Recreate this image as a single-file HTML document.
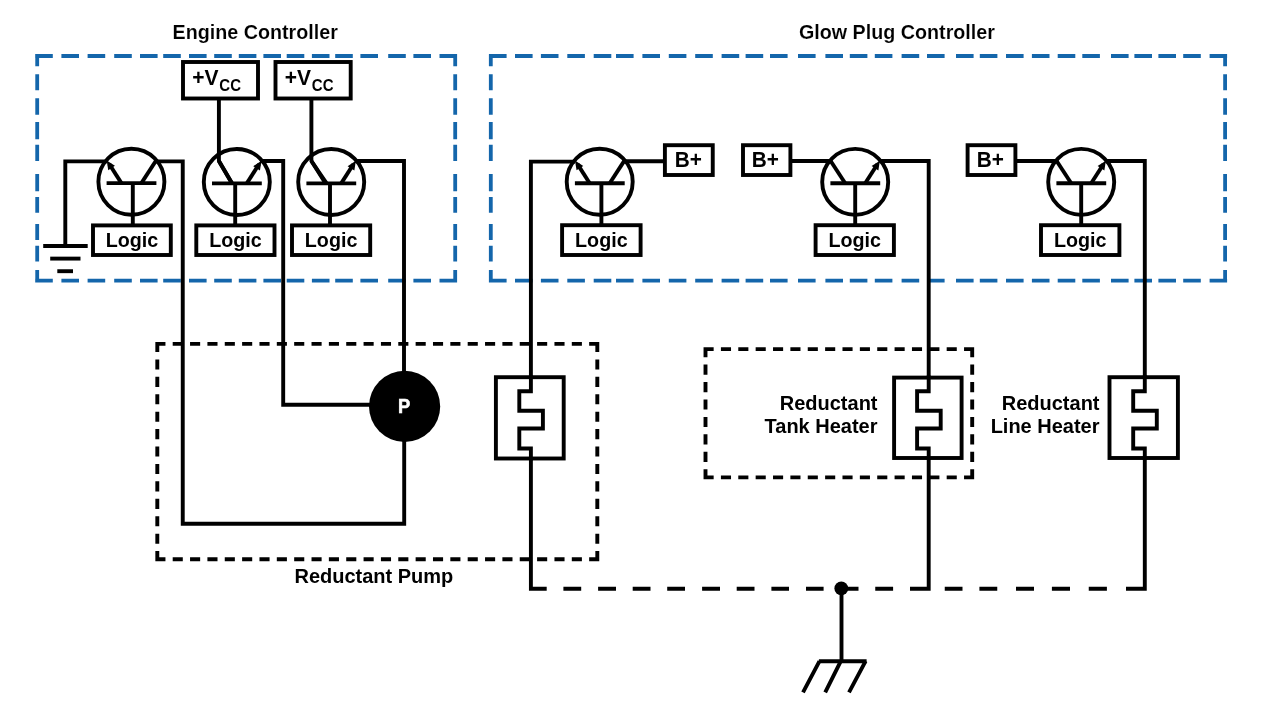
<!DOCTYPE html><html><head><meta charset="utf-8"><style>html,body{margin:0;padding:0;background:#fff;overflow:hidden}svg{display:block;will-change:transform}text{font-family:"Liberation Sans",sans-serif;font-weight:bold}</style></head><body>
<svg width="1280" height="720" viewBox="0 0 1280 720">
<rect width="1280" height="720" fill="#fff"/>
<text transform="translate(172.6 38.6) scale(0.985 1.05)" text-anchor="start" fill="#000" font-size="20" stroke="#fff" stroke-width="0.1">Engine Controller</text>
<text transform="translate(799.0 38.5) scale(0.985 1.05)" text-anchor="start" fill="#000" font-size="20" stroke="#fff" stroke-width="0.1">Glow Plug Controller</text>
<path d="M35.2 56 H52.800000000000004 M61.4 56 H79.0 M87.6 56 H105.19999999999999 M114.2 56 H131.8 M140 56 H157.6 M163.2 56 H180.79999999999998 M189 56 H206.6 M214.2 56 H231.79999999999998 M238.8 56 H256.40000000000003 M263.4 56 H281.0 M286.7 56 H304.3 M311.9 56 H329.5 M335.2 56 H352.8 M360.4 56 H378.0 M388.2 56 H405.8 M413.4 56 H431.0 M439.5 56 H457.1 M489 56 H506.6 M515 56 H532.6 M540.9 56 H558.5 M567.3 56 H584.9 M593.7 56 H611.3000000000001 M616 56 H633.6 M642.4 56 H660.0 M668.8 56 H686.4 M695.2 56 H712.8000000000001 M721.6 56 H739.2 M745.6 56 H763.2 M770 56 H787.6 M798 56 H815.6 M825.4 56 H843.0 M849.8 56 H867.4 M874.8 56 H892.4 M901.6 56 H919.2 M927 56 H944.6 M956 56 H973.6 M979.8 56 H997.4 M1006 56 H1023.6 M1031.9 56 H1049.5 M1057.7 56 H1075.3 M1082.3 56 H1099.8999999999999 M1111 56 H1128.6 M1134.4 56 H1152.0 M1158.4 56 H1176.0 M1183.2 56 H1200.8 M1209.6 56 H1227.1 M35.2 280.7 H52.800000000000004 M61.4 280.7 H79.0 M87.6 280.7 H105.19999999999999 M114.2 280.7 H131.8 M140 280.7 H157.6 M163.2 280.7 H180.79999999999998 M189 280.7 H206.6 M214.2 280.7 H231.79999999999998 M238.8 280.7 H256.40000000000003 M263.4 280.7 H281.0 M286.7 280.7 H304.3 M311.9 280.7 H329.5 M335.2 280.7 H352.8 M360.4 280.7 H378.0 M388.2 280.7 H405.8 M413.4 280.7 H431.0 M439.5 280.7 H457.1 M489 280.7 H506.6 M515 280.7 H532.6 M540.9 280.7 H558.5 M567.3 280.7 H584.9 M593.7 280.7 H611.3000000000001 M616 280.7 H633.6 M642.4 280.7 H660.0 M668.8 280.7 H686.4 M695.2 280.7 H712.8000000000001 M721.6 280.7 H739.2 M745.6 280.7 H763.2 M770 280.7 H787.6 M798 280.7 H815.6 M825.4 280.7 H843.0 M849.8 280.7 H867.4 M874.8 280.7 H892.4 M901.6 280.7 H919.2 M927 280.7 H944.6 M956 280.7 H973.6 M979.8 280.7 H997.4 M1006 280.7 H1023.6 M1031.9 280.7 H1049.5 M1057.7 280.7 H1075.3 M1082.3 280.7 H1099.8999999999999 M1111 280.7 H1128.6 M1134.4 280.7 H1152.0 M1158.4 280.7 H1176.0 M1183.2 280.7 H1200.8 M1209.6 280.7 H1227.1 M37.2 54.2 V66.3 M37.2 74.2 V90.3 M37.2 98.3 V114.7 M37.2 122 V139.2 M37.2 144.7 V161 M37.2 173.9 V191.2 M37.2 196.9 V212.7 M37.2 224 V240 M37.2 245.7 V261.4 M37.2 270 V282.6 M455.2 54.2 V66.3 M455.2 74.2 V90.3 M455.2 98.3 V114.7 M455.2 122 V139.2 M455.2 144.7 V161 M455.2 173.9 V191.2 M455.2 196.9 V212.7 M455.2 224 V240 M455.2 245.7 V261.4 M455.2 270 V282.6 M490.8 54.2 V66.3 M490.8 74.2 V90.3 M490.8 98.3 V114.7 M490.8 122 V139.2 M490.8 144.7 V161 M490.8 173.9 V191.2 M490.8 196.9 V212.7 M490.8 224 V240 M490.8 245.7 V261.4 M490.8 270 V282.6 M1225.1 54.2 V66.3 M1225.1 74.2 V90.3 M1225.1 98.3 V114.7 M1225.1 122 V139.2 M1225.1 144.7 V161 M1225.1 173.9 V191.2 M1225.1 196.9 V212.7 M1225.1 224 V240 M1225.1 245.7 V261.4 M1225.1 270 V282.6" fill="none" stroke="#1466ab" stroke-width="3.8"/>
<path d="M218.9 98.5 V161 L232 183.4" fill="none" stroke="#000" stroke-width="3.9" stroke-linecap="butt" stroke-linejoin="miter" />
<path d="M311.4 98.5 V161 L325.6 183.4" fill="none" stroke="#000" stroke-width="3.9" stroke-linecap="butt" stroke-linejoin="miter" />
<rect x="183" y="62" width="75.00" height="36.50" fill="#fff" stroke="#000" stroke-width="3.9" />
<rect x="275.5" y="62" width="75.20" height="36.50" fill="#fff" stroke="#000" stroke-width="3.9" />
<text transform="translate(192.2 85.1) scale(1.0 1.065)" text-anchor="start" fill="#000" font-size="21">+V</text>
<text transform="translate(219.3 91) scale(1.0 1.095)" text-anchor="start" fill="#000" font-size="15">CC</text>
<text transform="translate(284.7 85.1) scale(1.0 1.065)" text-anchor="start" fill="#000" font-size="21">+V</text>
<text transform="translate(311.8 91) scale(1.0 1.095)" text-anchor="start" fill="#000" font-size="15">CC</text>
<circle cx="131.4" cy="181.7" r="33.0" fill="none" stroke="#000" stroke-width="3.9"/>
<path d="M106.60000000000001 183.1 H156.4" fill="none" stroke="#000" stroke-width="3.9" stroke-linecap="butt" stroke-linejoin="miter" />
<path d="M121.40 183.10 L109.20 164.00" fill="none" stroke="#000" stroke-width="3.9" stroke-linecap="butt" stroke-linejoin="miter" />
<path d="M106.70 160.50 L114.96 165.86 L108.25 170.23 Z" fill="#000"/>
<path d="M141.40 183.10 L156.10 160.50" fill="none" stroke="#000" stroke-width="3.9" stroke-linecap="butt" stroke-linejoin="miter" />
<path d="M65.3 246 V161.4 H107" fill="none" stroke="#000" stroke-width="3.9" stroke-linecap="butt" stroke-linejoin="miter" />
<path d="M156 161.4 H182.75 V523.8 H404.2 V441" fill="none" stroke="#000" stroke-width="3.9" stroke-linecap="butt" stroke-linejoin="miter" />
<path d="M43.2 246 H87.7" fill="none" stroke="#000" stroke-width="3.9" stroke-linecap="butt" stroke-linejoin="miter" />
<path d="M50.2 258.6 H80.5" fill="none" stroke="#000" stroke-width="3.9" stroke-linecap="butt" stroke-linejoin="miter" />
<path d="M57.3 271.2 H73" fill="none" stroke="#000" stroke-width="3.9" stroke-linecap="butt" stroke-linejoin="miter" />
<circle cx="236.8" cy="182" r="33.0" fill="none" stroke="#000" stroke-width="3.9"/>
<path d="M212.0 183.4 H261.8" fill="none" stroke="#000" stroke-width="3.9" stroke-linecap="butt" stroke-linejoin="miter" />
<path d="M246.80 183.40 L259.00 164.30" fill="none" stroke="#000" stroke-width="3.9" stroke-linecap="butt" stroke-linejoin="miter" />
<path d="M261.50 160.80 L259.95 170.53 L253.24 166.16 Z" fill="#000"/>
<path d="M232.20 183.4 L218.9 161" fill="none" stroke="#000" stroke-width="3.9" stroke-linecap="butt" stroke-linejoin="miter" />
<path d="M260 161 H283.2 V404.7 H370" fill="none" stroke="#000" stroke-width="3.9" stroke-linecap="butt" stroke-linejoin="miter" />
<circle cx="331.2" cy="182" r="33.0" fill="none" stroke="#000" stroke-width="3.9"/>
<path d="M306.4 183.4 H356.2" fill="none" stroke="#000" stroke-width="3.9" stroke-linecap="butt" stroke-linejoin="miter" />
<path d="M341.20 183.40 L353.40 164.30" fill="none" stroke="#000" stroke-width="3.9" stroke-linecap="butt" stroke-linejoin="miter" />
<path d="M355.90 160.80 L354.35 170.53 L347.64 166.16 Z" fill="#000"/>
<path d="M326.60 183.4 L311.4 161" fill="none" stroke="#000" stroke-width="3.9" stroke-linecap="butt" stroke-linejoin="miter" />
<path d="M355 161 H404 V372" fill="none" stroke="#000" stroke-width="3.9" stroke-linecap="butt" stroke-linejoin="miter" />
<path d="M132.8 183 V225.4" fill="none" stroke="#000" stroke-width="3.9" stroke-linecap="butt" stroke-linejoin="miter" />
<rect x="93" y="225.4" width="77.80" height="29.60" fill="#fff" stroke="#000" stroke-width="3.9" />
<text transform="translate(131.9 246.5) scale(0.985 1.04)" text-anchor="middle" fill="#000" font-size="20">Logic</text>
<path d="M235.2 183 V225.4" fill="none" stroke="#000" stroke-width="3.9" stroke-linecap="butt" stroke-linejoin="miter" />
<rect x="196.3" y="225.4" width="78.20" height="29.60" fill="#fff" stroke="#000" stroke-width="3.9" />
<text transform="translate(235.4 246.5) scale(0.985 1.04)" text-anchor="middle" fill="#000" font-size="20">Logic</text>
<path d="M330 183 V225.4" fill="none" stroke="#000" stroke-width="3.9" stroke-linecap="butt" stroke-linejoin="miter" />
<rect x="292" y="225.4" width="78.20" height="29.60" fill="#fff" stroke="#000" stroke-width="3.9" />
<text transform="translate(331.1 246.5) scale(0.985 1.04)" text-anchor="middle" fill="#000" font-size="20">Logic</text>
<circle cx="404.6" cy="406.4" r="35.6" fill="#000"/>
<text transform="translate(404.2 412.8) scale(0.92 1.0)" text-anchor="middle" fill="#fff" font-size="20" stroke="#fff" stroke-width="0.6">P</text>
<path d="M155.35 343.9 H165.45 M172.70 343.9 H182.80 M190.05 343.9 H200.15 M207.41 343.9 H217.51 M224.76 343.9 H234.86 M242.11 343.9 H252.21 M259.46 343.9 H269.56 M276.81 343.9 H286.91 M294.17 343.9 H304.27 M311.52 343.9 H321.62 M328.87 343.9 H338.97 M346.22 343.9 H356.32 M363.57 343.9 H373.67 M380.93 343.9 H391.03 M398.28 343.9 H408.38 M415.63 343.9 H425.73 M432.98 343.9 H443.08 M450.33 343.9 H460.43 M467.69 343.9 H477.79 M485.04 343.9 H495.14 M502.39 343.9 H512.49 M519.74 343.9 H529.84 M537.09 343.9 H547.19 M554.45 343.9 H564.55 M571.80 343.9 H581.90 M589.15 343.9 H599.25 M155.35 559.2 H165.45 M172.70 559.2 H182.80 M190.05 559.2 H200.15 M207.41 559.2 H217.51 M224.76 559.2 H234.86 M242.11 559.2 H252.21 M259.46 559.2 H269.56 M276.81 559.2 H286.91 M294.17 559.2 H304.27 M311.52 559.2 H321.62 M328.87 559.2 H338.97 M346.22 559.2 H356.32 M363.57 559.2 H373.67 M380.93 559.2 H391.03 M398.28 559.2 H408.38 M415.63 559.2 H425.73 M432.98 559.2 H443.08 M450.33 559.2 H460.43 M467.69 559.2 H477.79 M485.04 559.2 H495.14 M502.39 559.2 H512.49 M519.74 559.2 H529.84 M537.09 559.2 H547.19 M554.45 559.2 H564.55 M571.80 559.2 H581.90 M589.15 559.2 H599.25 M157.3 341.95 V352.05 M157.3 359.38 V369.48 M157.3 376.80 V386.90 M157.3 394.23 V404.33 M157.3 411.65 V421.75 M157.3 429.08 V439.18 M157.3 446.50 V456.60 M157.3 463.93 V474.03 M157.3 481.35 V491.45 M157.3 498.78 V508.88 M157.3 516.20 V526.30 M157.3 533.63 V543.73 M157.3 551.05 V561.15 M597.3 341.95 V352.05 M597.3 359.38 V369.48 M597.3 376.80 V386.90 M597.3 394.23 V404.33 M597.3 411.65 V421.75 M597.3 429.08 V439.18 M597.3 446.50 V456.60 M597.3 463.93 V474.03 M597.3 481.35 V491.45 M597.3 498.78 V508.88 M597.3 516.20 V526.30 M597.3 533.63 V543.73 M597.3 551.05 V561.15" fill="none" stroke="#000" stroke-width="3.9"/>
<text transform="translate(294.5 583) scale(1.0 1.04)" text-anchor="start" fill="#000" font-size="20">Reductant Pump</text>
<circle cx="599.7" cy="181.8" r="33.0" fill="none" stroke="#000" stroke-width="3.9"/>
<path d="M574.9000000000001 183.20000000000002 H624.7" fill="none" stroke="#000" stroke-width="3.9" stroke-linecap="butt" stroke-linejoin="miter" />
<path d="M589.70 183.20 L577.50 164.10" fill="none" stroke="#000" stroke-width="3.9" stroke-linecap="butt" stroke-linejoin="miter" />
<path d="M575.00 160.60 L583.26 165.96 L576.55 170.33 Z" fill="#000"/>
<path d="M609.70 183.20 L624.40 160.60" fill="none" stroke="#000" stroke-width="3.9" stroke-linecap="butt" stroke-linejoin="miter" />
<path d="M575 161.6 H530.9 V588.8 H546.7" fill="none" stroke="#000" stroke-width="3.9" stroke-linecap="butt" stroke-linejoin="miter" />
<path d="M624 161.2 H665" fill="none" stroke="#000" stroke-width="3.9" stroke-linecap="butt" stroke-linejoin="miter" />
<rect x="664.9" y="145.2" width="47.85" height="29.80" fill="#fff" stroke="#000" stroke-width="3.9" />
<text transform="translate(688.3 166.9) scale(1.04 1.065)" text-anchor="middle" fill="#000" font-size="20">B+</text>
<circle cx="855.2" cy="181.9" r="33.0" fill="none" stroke="#000" stroke-width="3.9"/>
<path d="M830.4000000000001 183.3 H880.2" fill="none" stroke="#000" stroke-width="3.9" stroke-linecap="butt" stroke-linejoin="miter" />
<path d="M865.20 183.30 L877.40 164.20" fill="none" stroke="#000" stroke-width="3.9" stroke-linecap="butt" stroke-linejoin="miter" />
<path d="M879.90 160.70 L878.35 170.43 L871.64 166.06 Z" fill="#000"/>
<path d="M845.20 183.30 L830.50 160.70" fill="none" stroke="#000" stroke-width="3.9" stroke-linecap="butt" stroke-linejoin="miter" />
<path d="M790.4 161 H831" fill="none" stroke="#000" stroke-width="3.9" stroke-linecap="butt" stroke-linejoin="miter" />
<path d="M879.5 161 H928.7 V588.8 H910" fill="none" stroke="#000" stroke-width="3.9" stroke-linecap="butt" stroke-linejoin="miter" />
<rect x="743" y="145.2" width="47.40" height="29.80" fill="#fff" stroke="#000" stroke-width="3.9" />
<text transform="translate(765.3 166.9) scale(1.04 1.065)" text-anchor="middle" fill="#000" font-size="20">B+</text>
<circle cx="1081.2" cy="181.9" r="33.0" fill="none" stroke="#000" stroke-width="3.9"/>
<path d="M1056.4 183.3 H1106.2" fill="none" stroke="#000" stroke-width="3.9" stroke-linecap="butt" stroke-linejoin="miter" />
<path d="M1091.20 183.30 L1103.40 164.20" fill="none" stroke="#000" stroke-width="3.9" stroke-linecap="butt" stroke-linejoin="miter" />
<path d="M1105.90 160.70 L1104.35 170.43 L1097.64 166.06 Z" fill="#000"/>
<path d="M1071.20 183.30 L1056.50 160.70" fill="none" stroke="#000" stroke-width="3.9" stroke-linecap="butt" stroke-linejoin="miter" />
<path d="M1015.4 161 H1057" fill="none" stroke="#000" stroke-width="3.9" stroke-linecap="butt" stroke-linejoin="miter" />
<path d="M1105.5 161 H1144.8 V588.8 H1126" fill="none" stroke="#000" stroke-width="3.9" stroke-linecap="butt" stroke-linejoin="miter" />
<rect x="967.6" y="145.2" width="47.80" height="29.80" fill="#fff" stroke="#000" stroke-width="3.9" />
<text transform="translate(990.4 166.9) scale(1.04 1.065)" text-anchor="middle" fill="#000" font-size="20">B+</text>
<path d="M601.4 183 V225.2" fill="none" stroke="#000" stroke-width="3.9" stroke-linecap="butt" stroke-linejoin="miter" />
<rect x="562.1" y="225.2" width="78.50" height="29.80" fill="#fff" stroke="#000" stroke-width="3.9" />
<text transform="translate(601.35 246.5) scale(0.985 1.04)" text-anchor="middle" fill="#000" font-size="20">Logic</text>
<path d="M855.2 183 V225.2" fill="none" stroke="#000" stroke-width="3.9" stroke-linecap="butt" stroke-linejoin="miter" />
<rect x="815.6" y="225.2" width="78.30" height="29.80" fill="#fff" stroke="#000" stroke-width="3.9" />
<text transform="translate(854.75 246.5) scale(0.985 1.04)" text-anchor="middle" fill="#000" font-size="20">Logic</text>
<path d="M1081.2 183 V225.2" fill="none" stroke="#000" stroke-width="3.9" stroke-linecap="butt" stroke-linejoin="miter" />
<rect x="1041" y="225.2" width="78.40" height="29.80" fill="#fff" stroke="#000" stroke-width="3.9" />
<text transform="translate(1080.2 246.5) scale(0.985 1.04)" text-anchor="middle" fill="#000" font-size="20">Logic</text>
<rect x="495.9" y="377.2" width="67.80" height="81.30" fill="#fff" stroke="#000" stroke-width="3.9" />
<path d="M530.9 375.2 V391.3 H519.3 V410.7 H542.9 V428.5 H519.3 V448.5 H530.9 V460.5" fill="none" stroke="#000" stroke-width="3.9" stroke-linecap="butt" stroke-linejoin="miter" />
<rect x="894.1" y="377.6" width="67.50" height="80.40" fill="#fff" stroke="#000" stroke-width="3.9" />
<path d="M928.7 375.6 V391.3 H917.1 V410.7 H940.7 V428.5 H917.1 V448.5 H928.7 V460" fill="none" stroke="#000" stroke-width="3.9" stroke-linecap="butt" stroke-linejoin="miter" />
<rect x="1109.5" y="377.2" width="68.40" height="80.80" fill="#fff" stroke="#000" stroke-width="3.9" />
<path d="M1144.8 375.2 V391.3 H1133.2 V410.7 H1156.8 V428.5 H1133.2 V448.5 H1144.8 V460" fill="none" stroke="#000" stroke-width="3.9" stroke-linecap="butt" stroke-linejoin="miter" />
<path d="M703.55 349.1 H713.65 M720.92 349.1 H731.02 M738.28 349.1 H748.38 M755.65 349.1 H765.75 M773.02 349.1 H783.12 M790.38 349.1 H800.48 M807.75 349.1 H817.85 M825.12 349.1 H835.22 M842.48 349.1 H852.58 M859.85 349.1 H869.95 M877.22 349.1 H887.32 M894.58 349.1 H904.68 M911.95 349.1 H922.05 M929.32 349.1 H939.42 M946.68 349.1 H956.78 M964.05 349.1 H974.15 M703.55 477.4 H713.65 M720.92 477.4 H731.02 M738.28 477.4 H748.38 M755.65 477.4 H765.75 M773.02 477.4 H783.12 M790.38 477.4 H800.48 M807.75 477.4 H817.85 M825.12 477.4 H835.22 M842.48 477.4 H852.58 M859.85 477.4 H869.95 M877.22 477.4 H887.32 M894.58 477.4 H904.68 M911.95 477.4 H922.05 M929.32 477.4 H939.42 M946.68 477.4 H956.78 M964.05 477.4 H974.15 M705.5 347.15 V357.25 M705.5 364.59 V374.69 M705.5 382.04 V392.14 M705.5 399.48 V409.58 M705.5 416.92 V427.02 M705.5 434.36 V444.46 M705.5 451.81 V461.91 M705.5 469.25 V479.35 M972.2 347.15 V357.25 M972.2 364.59 V374.69 M972.2 382.04 V392.14 M972.2 399.48 V409.58 M972.2 416.92 V427.02 M972.2 434.36 V444.46 M972.2 451.81 V461.91 M972.2 469.25 V479.35" fill="none" stroke="#000" stroke-width="3.9"/>
<text transform="translate(877.5 409.7) scale(1.0 1.04)" text-anchor="end" fill="#000" font-size="20">Reductant</text>
<text transform="translate(877.5 433.1) scale(1.0 1.04)" text-anchor="end" fill="#000" font-size="20">Tank Heater</text>
<text transform="translate(1099.5 409.7) scale(1.0 1.04)" text-anchor="end" fill="#000" font-size="20">Reductant</text>
<text transform="translate(1099.5 432.7) scale(1.0 1.04)" text-anchor="end" fill="#000" font-size="20">Line Heater</text>
<path d="M563.4 588.8 H581.2 M598.1 588.8 H616 M632.7 588.8 H650.5 M667.2 588.8 H685 M702.1 588.8 H720 M736.7 588.8 H754.5 M771.4 588.8 H789 M806 588.8 H823.6 M841 588.8 H858.5 M875.25 588.8 H893.1 M944.75 588.8 H962.5 M979.4 588.8 H997.25 M1016 588.8 H1034 M1051.9 588.8 H1070 M1088.75 588.8 H1106.9" fill="none" stroke="#000" stroke-width="3.9" stroke-linecap="butt" stroke-linejoin="miter" />
<circle cx="841.3" cy="588.4" r="6.9" fill="#000"/>
<path d="M841.5 588 V661.2" fill="none" stroke="#000" stroke-width="3.9" stroke-linecap="butt" stroke-linejoin="miter" />
<path d="M818.9 661.2 H866.6" fill="none" stroke="#000" stroke-width="3.9" stroke-linecap="butt" stroke-linejoin="miter" />
<path d="M819.5 661.2 L803 692.3 M840.8 661.2 L825.2 692.3 M865.6 661.2 L849 692.3" fill="none" stroke="#000" stroke-width="3.9" stroke-linecap="butt" stroke-linejoin="miter" />
</svg></body></html>
